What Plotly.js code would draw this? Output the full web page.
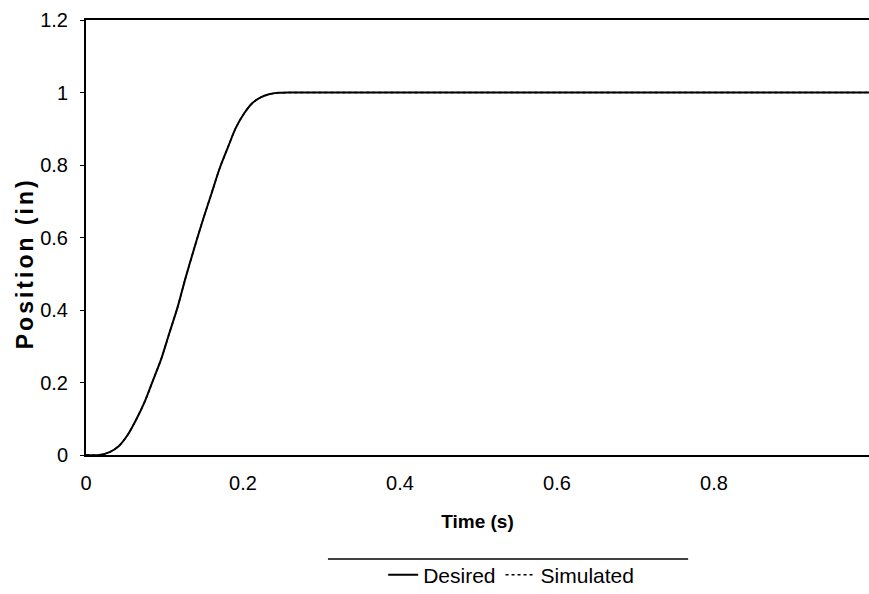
<!DOCTYPE html>
<html>
<head>
<meta charset="utf-8">
<script src="https://cdn.plot.ly/plotly-3.0.1.min.js"></script>
<style>
html,body{margin:0;padding:0;background:#fff;}
#chart{width:869px;height:594px;}
#chart .annotation-text{letter-spacing:3px;}
</style>
</head>
<body>
<div id="chart"></div>
<script>
// Time (s)
var timeDesired = [0, 0.017, 0.03, 0.042, 0.053, 0.064, 0.075, 0.085, 0.096, 0.106, 0.117, 0.127, 0.138, 0.149, 0.160, 0.170, 0.181, 0.191, 0.202, 0.212, 0.222, 0.233, 0.245, 0.26, 0.3, 0.5, 0.75, 1.0];
// Position (in)
var posDesired = [0, 0, 0.008, 0.025, 0.055, 0.098, 0.148, 0.204, 0.266, 0.335, 0.410, 0.490, 0.571, 0.649, 0.722, 0.789, 0.850, 0.903, 0.944, 0.971, 0.986, 0.995, 0.999, 1.0, 1.0, 1.0, 1.0, 1.0];
var timeSimulated = [0, 0.017, 0.03, 0.042, 0.053, 0.064, 0.075, 0.085, 0.096, 0.106, 0.117, 0.127, 0.138, 0.149, 0.160, 0.170, 0.181, 0.191, 0.202, 0.212, 0.222, 0.233, 0.245, 0.26, 0.3, 0.5, 0.75, 1.0];
var posSimulated = [0, 0, 0.008, 0.025, 0.055, 0.098, 0.148, 0.204, 0.266, 0.335, 0.410, 0.490, 0.571, 0.649, 0.722, 0.789, 0.850, 0.903, 0.944, 0.971, 0.986, 0.995, 0.999, 1.0, 1.0, 1.0, 1.0, 1.0];
var xTickVals = [0, 0.2, 0.4, 0.6, 0.8];
var xTickText = ['0', '0.2', '0.4', '0.6', '0.8'];
var yTickVals = [0, 0.2, 0.4, 0.6, 0.8, 1, 1.2];
var yTickText = ['0', '0.2', '0.4', '0.6', '0.8', '1', '1.2'];

var font = 'Liberation Sans, Arial, sans-serif';
var traces = [
  {x: timeDesired, y: posDesired, name: 'Desired', mode: 'lines', line: {color: '#000', width: 2, shape: 'spline', smoothing: 0.8}},
  {x: timeSimulated, y: posSimulated, name: 'Simulated', mode: 'lines', line: {color: '#000', width: 1.5, dash: 'dot', shape: 'spline', smoothing: 0.8}}
];
var layout = {
  width: 869, height: 594,
  margin: {l: 86, r: 0, t: 20, b: 139, autoexpand: false},
  paper_bgcolor: '#fff', plot_bgcolor: '#fff',
  font: {family: font, color: '#000', size: 20},
  showlegend: true,
  legend: {orientation: 'h', x: 0.543, xanchor: 'center', y: -0.276, yanchor: 'middle',
           bgcolor: 'rgba(0,0,0,0)',
           font: {family: font, size: 21, color: '#000'}, itemwidth: 30, tracegroupgap: 0},
  xaxis: {
    range: [0, 0.9975], tickvals: xTickVals, ticktext: xTickText, automargin: false,
    showgrid: false, zeroline: false, showline: true, linecolor: '#000', linewidth: 2, mirror: true,
    ticks: '', ticklabelstandoff: 9,
    tickfont: {family: font, size: 20, color: '#000'},
    title: {text: 'Time (s)', font: {family: font, size: 19, color: '#000', weight: 'bold'}, standoff: 22}
  },
  yaxis: {
    range: [0, 1.2], tickvals: yTickVals, ticktext: yTickText, automargin: false,
    showgrid: false, zeroline: false, showline: true, linecolor: '#000', linewidth: 2,
    ticks: 'outside', ticklen: 4, tickwidth: 1, tickcolor: '#000', ticklabelstandoff: 8,
    tickfont: {family: font, size: 20, color: '#000'}
  },
  annotations: [
    {text: 'Position (in)', xref: 'paper', yref: 'paper', x: -0.079, y: 0.44, xanchor: 'center', yanchor: 'middle',
     textangle: -90, showarrow: false, font: {family: font, size: 23, color: '#000', weight: 'bold'}}
  ],
  shapes: [
    {type: 'line', xref: 'paper', yref: 'paper', x0: 0.309, x1: 0.769, y0: -0.239, y1: -0.239, line: {color: '#000', width: 1.5}}
  ]
};
Plotly.newPlot('chart', traces, layout, {displayModeBar: false, staticPlot: true});
</script>
</body>
</html>
